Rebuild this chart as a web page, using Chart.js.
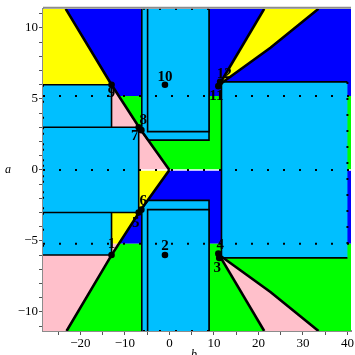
<!DOCTYPE html>
<html>
<head>
<meta charset="utf-8">
<script src="https://cdn.jsdelivr.net/npm/chart.js@4.4.0/dist/chart.umd.min.js"></script>
<style>
  html, body { margin: 0; padding: 0; background: #fff; }
</style>
</head>
<body>
<canvas id="plot" width="355" height="355"></canvas>
<script>
// extent of the (b, a) plane
const bRange = [-28.4, 40.8];
const aRange = [-11.35, 11.35];

// coloured regions, corners as [b, a]
const yellowUpperLeft = [[-28.4, 11.35], [-23.3, 11.35], [-13, 6], [-28.4, 6]];
const pinkUpperLeft = [[-28.4, 6], [-13, 6], [-6.6, 2.9], [0, 0], [-28.4, 0]];
const yellowLowerLeft = [[-28.4, 0], [0, 0], [-6.6, -2.9], [-11.35, -5.2], [-28.4, -5.2]];
const pinkLowerLeft = [[-28.4, -5.2], [-11.35, -5.2], [-13, -6], [-23.1, -11.35], [-28.4, -11.35]];
const blueUpper = [[-11.35, 5.2], [-13, 6], [-23.3, 11.35], [40.8, 11.35], [40.8, 5.2]];
const greenUpper = [[0, 0], [-6.6, 2.9], [-11.35, 5.2], [40.8, 5.2], [40.8, 0]];
const blueLower = [[0, 0], [-6.6, -2.9], [-11.35, -5.2], [40.8, -5.2], [40.8, 0]];
const greenLower = [[-11.35, -5.2], [-13, -6], [-23.1, -11.35], [40.8, -11.35], [40.8, -5.2]];
const yellowWedge = [[11.2, 6], [21.3, 11.35], [33.5, 11.35], [22.7, 8.6]];
const pinkWedge = [[11.2, -6], [21.3, -11.35], [33.5, -11.35], [22.7, -8.6]];

// light blue boxes; the closing edge (last -> first) lies on the frame and is dotted
const boxLeftTall = [[-28.4, -6], [-13, -6], [-13, 6], [-28.4, 6]];
const boxLeftShort = [[-28.4, -3], [-6.9, -3], [-6.9, 3], [-28.4, 3]];
const boxTopOuter = [[-6.2, 11.35], [-6.2, 2.72], [-4.8, 2.1], [8.9, 2.1], [8.9, 11.35]];
const boxTopInner = [[-4.9, 11.35], [-4.9, 2.7], [8.9, 2.7], [8.9, 11.35]];
const boxBottomOuter = [[-6.2, -11.35], [-6.2, -2.72], [-4.85, -2.15], [8.9, -2.15], [8.9, -11.35]];
const boxBottomInner = [[-4.9, -11.35], [-4.9, -2.8], [8.9, -2.8], [8.9, -11.35]];
const boxRight = [[40, -6.2], [11.7, -6.2], [11.7, 6.2], [40, 6.2]];

// solid boundary curves
const diagonalUpper = [[-23.3, 11.35], [-13, 6], [-6.6, 2.9], [0, 0]];
const diagonalLower = [[-23.1, -11.35], [-13, -6], [-6.6, -2.9], [0, 0]];

// open boundaries (dotted)
const dottedLevels = [5.2, 0, -5.2];

// numbered points
const pointB = [-13, -1, 11.2, 11, -6.9, -6.3, -6.9, -6.3, -13, -1, 11, 11.4];
const pointA = [-6, -6, -6.2, -5.9, -3, -2.8, 3, 2.8, 6, 6, 5.9, 6.2];
const pointLabels = ['1', '2', '3', '4', '5', '6', '7', '8', '9', '10', '11', '12'];

const YELLOW = '#ffff00', PINK = '#ffc0cb', GREEN = '#00ff00', BLUE = '#0000ff', SKY = '#00bfff';

const xy = arr => arr.map(([x, y]) => ({ x, y }));

const layers = [];
function region(corners, color) {
    layers.push({ data: xy(corners), fill: 'shape', backgroundColor: color,
        borderColor: 'transparent', borderWidth: 0, pointRadius: 0 });
}
function stroke(corners, color, width, dash) {
    layers.push({ data: xy(corners), fill: false, borderColor: color,
        borderWidth: width, borderDash: dash || [], pointRadius: 0, borderCapStyle: 'butt' });
}

region(yellowUpperLeft, YELLOW);
region(pinkUpperLeft, PINK);
region(yellowLowerLeft, YELLOW);
region(pinkLowerLeft, PINK);
region(blueUpper, BLUE);
region(greenUpper, GREEN);
region(blueLower, BLUE);
region(greenLower, GREEN);
region(yellowWedge, YELLOW);
region(pinkWedge, PINK);

// thin white seam along a = 0
stroke([[bRange[0], 0], [bRange[1], 0]], '#ffffff', 1.5);

const boxes = [boxLeftTall, boxLeftShort, boxTopOuter, boxTopInner, boxBottomOuter, boxBottomInner, boxRight];
boxes.forEach(box => {
    layers.push({ data: xy(box), fill: 'shape', backgroundColor: SKY,
        borderColor: '#000', borderWidth: 1.6, pointRadius: 0 });
});
boxes.forEach(box => stroke([box[box.length - 1], box[0]], '#000', 2, [2, 14]));

dottedLevels.forEach(a => stroke([[bRange[0], a], [bRange[1], a]], '#000', 2, [2, 14]));

stroke(diagonalUpper, '#000', 2.6);
stroke(diagonalLower, '#000', 2.6);
[yellowWedge, pinkWedge].forEach(w => {
    stroke([w[0], w[1]], '#000', 2.6);
    stroke([w[0]].concat(w.slice(3).reverse()).concat([w[2]]), '#000', 2.6);
});

layers.push({
    data: pointB.map((b, i) => ({ x: b, y: pointA[i] })),
    showLine: false, pointRadius: 3.3, pointBackgroundColor: '#000', pointBorderWidth: 0
});
const pointsIndex = layers.length - 1;

// bottom layer gets the highest order so it is painted first
layers.forEach((ds, i) => { ds.order = layers.length - i; ds.tension = 0; });

// label shifts in pixels from each point
const labelShift = [[0, -11], [0, -9], [-2, 10], [2, -9], [-3, 11], [2, -9], [-4, 9], [2, -10], [0, 8], [0, -8], [-2, 10], [4, -8]];

const decor = {
    id: 'decor',
    afterDatasetsDraw(chart) {
        const ctx = chart.ctx;
        const area = chart.chartArea;
        const meta = chart.getDatasetMeta(pointsIndex);
        ctx.save();
        ctx.fillStyle = '#000';
        ctx.font = 'bold 15px "Liberation Serif"';
        ctx.textAlign = 'center';
        ctx.textBaseline = 'middle';
        meta.data.forEach((pt, i) => {
            ctx.fillText(pointLabels[i], pt.x + labelShift[i][0], pt.y + labelShift[i][1]);
        });
        ctx.strokeStyle = '#8c8c8c';
        ctx.lineWidth = 2;
        ctx.beginPath();
        ctx.moveTo(area.left, area.top - 1);
        ctx.lineTo(area.right, area.top - 1);
        ctx.stroke();
        ctx.font = 'italic 12px "Liberation Serif"';
        ctx.fillText('a', 8, (area.top + area.bottom) / 2);
        ctx.fillText('b', (area.left + area.right) / 2 - 3, 355);
        ctx.restore();
    }
};

const minus = v => (v < 0 ? '\u2212' + Math.abs(v) : String(v));

new Chart(document.getElementById('plot'), {
    type: 'line',
    data: { datasets: layers },
    options: {
        responsive: false,
        animation: false,
        events: [],
        layout: { padding: { top: 4, right: 0, left: 0, bottom: 0 } },
        plugins: { legend: { display: false }, tooltip: { enabled: false } },
        scales: {
            x: {
                type: 'linear',
                min: bRange[0], max: bRange[1],
                afterFit(scale) { scale.height = 24; },
                grid: { drawOnChartArea: false, tickLength: 4, tickColor: '#555' },
                border: { color: '#8c8c8c', width: 2 },
                ticks: {
                    stepSize: 5, includeBounds: false, maxRotation: 0, autoSkip: false, padding: 1,
                    color: '#000', font: { family: 'Liberation Serif', size: 13 },
                    callback: v => (v % 10 === 0 ? minus(v) : '')
                }
            },
            y: {
                type: 'linear',
                min: aRange[0], max: aRange[1],
                afterFit(scale) { scale.width = 43; },
                grid: { drawOnChartArea: false, tickLength: 4, tickColor: '#555' },
                border: { color: '#8c8c8c', width: 2 },
                ticks: {
                    stepSize: 1, includeBounds: false, autoSkip: false, padding: 1,
                    color: '#000', font: { family: 'Liberation Serif', size: 13 },
                    callback: v => (v % 5 === 0 ? minus(v) : '')
                }
            }
        }
    },
    plugins: [decor]
});
</script>
</body>
</html>
